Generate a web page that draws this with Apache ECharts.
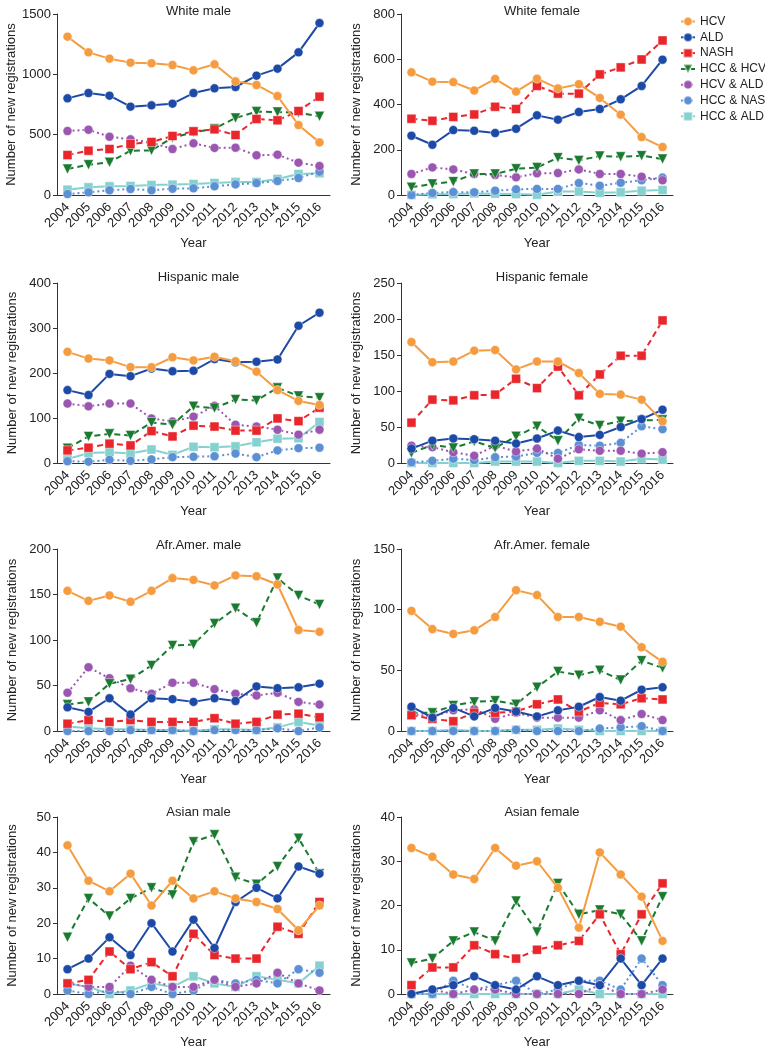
<!DOCTYPE html>
<html>
<head>
<meta charset="utf-8">
<script src="https://cdn.jsdelivr.net/npm/echarts@6/dist/echarts.min.js"></script>
<style>html,body{margin:0;padding:0;background:#fff}#c{width:765px;height:1050px}</style>
</head>
<body>
<div id="c"></div>
<script>
const years = ['2004','2005','2006','2007','2008','2009','2010','2011','2012','2013','2014','2015','2016'];
const seriesNames = ['HCV','ALD','NASH','HCC & HCV','HCV & ALD','HCC & NASH','HCC & ALD'];
const panelTitles = ['White male','White female','Hispanic male','Hispanic female','Afr.Amer. male','Afr.Amer. female','Asian male','Asian female'];
const yMaxes = [1500, 800, 400, 250, 200, 150, 50, 40];
const yIntervals = [500, 200, 100, 50, 50, 50, 10, 10];

// values per panel, one array per series (order as seriesNames)
const whiteMale = [
  [1312,1182,1130,1097,1092,1077,1033,1083,942,912,820,580,436],
  [801,845,823,732,743,757,845,884,895,989,1047,1182,1425],
  [331,367,381,423,439,489,528,544,497,630,619,696,815],
  [215,251,271,367,370,475,519,550,638,691,688,682,652],
  [530,541,483,461,434,381,428,390,392,329,334,268,240],
  [8,22,39,50,39,52,55,72,88,99,116,141,193],
  [44,64,72,75,83,86,91,99,108,108,133,174,180]
];
const whiteFemale = [
  [542,501,499,462,513,457,514,471,490,429,355,256,212],
  [262,222,287,284,274,293,352,333,367,380,423,482,598],
  [337,328,345,356,390,380,482,448,448,533,564,599,683],
  [34,49,59,93,93,116,121,165,153,172,169,174,159],
  [93,122,113,93,88,78,96,97,113,93,93,81,65],
  [0,9,13,12,19,25,27,27,53,41,54,65,77],
  [0,3,4,7,6,4,1,15,15,10,12,19,22]
];
const hispanicMale = [
  [247,232,228,213,213,235,228,236,226,203,162,138,129],
  [162,151,198,193,210,204,205,231,224,225,230,305,334],
  [28,34,43,39,71,59,83,81,72,72,99,93,123],
  [33,59,65,61,90,85,126,122,141,139,167,149,145],
  [132,126,132,132,99,92,103,127,85,81,74,63,74],
  [4,3,7,5,8,13,14,15,21,13,28,33,34],
  [9,22,24,21,30,18,36,35,37,46,54,55,91]
];
const hispanicFemale = [
  [168,140,141,156,157,130,141,141,125,96,95,88,58],
  [20,31,34,33,31,27,34,45,36,39,50,61,74],
  [56,88,87,94,95,117,104,134,94,123,149,149,198],
  [14,25,21,30,21,37,51,31,62,52,58,59,60],
  [24,22,15,10,24,16,20,6,19,17,17,13,15],
  [1,3,6,4,8,9,14,14,25,24,28,51,47],
  [0,0,0,0,2,2,2,0,3,3,2,6,5]
];
const afrMale = [
  [154,143,149,142,154,168,166,160,171,170,161,111,109],
  [26,21,36,18,36,35,32,36,33,49,47,48,52],
  [8,12,10,12,10,10,10,14,8,10,18,19,15],
  [29,32,52,57,72,94,95,118,135,119,168,149,139],
  [42,70,58,47,41,53,53,46,41,39,42,32,29],
  [0,0,0,1,1,1,0,1,1,1,3,0,4],
  [5,3,2,2,1,1,0,2,2,1,4,10,6]
];
const afrFemale = [
  [99,84,80,83,94,116,112,94,94,90,86,69,57],
  [20,11,19,12,19,16,12,17,20,28,25,34,36],
  [13,10,8,15,15,16,22,26,16,23,22,27,26],
  [15,15,21,24,25,22,36,49,46,50,42,58,52],
  [14,12,17,18,10,15,11,11,11,17,9,14,9],
  [0,0,0,0,0,1,0,0,0,2,3,4,0],
  [0,0,1,0,0,1,1,2,1,0,0,0,0]
];
const asianMale = [
  [42,32,29,34,25,32,27,29,27,26,24,18,25],
  [7,10,16,11,20,12,21,13,26,30,27,36,34],
  [3,4,12,7,9,5,17,11,10,10,19,17,26],
  [16,27,22,27,30,28,43,45,33,31,36,44,34],
  [3,2,2,8,4,2,2,4,2,3,6,3,1],
  [1,0,1,0,2,0,1,4,3,4,3,7,6],
  [3,2,0,1,3,2,5,3,2,5,4,3,8]
];
const asianFemale = [
  [33,31,27,26,33,29,30,24,15,32,27,22,12],
  [0,1,2,4,2,1,4,2,3,2,8,2,8],
  [2,6,6,11,9,8,10,11,12,18,9,18,25],
  [7,8,12,14,12,21,14,25,18,19,18,12,22],
  [0,1,0,1,1,0,0,0,0,2,0,0,1],
  [0,0,3,1,2,3,0,1,3,3,1,8,2],
  [0,0,0,0,0,0,0,0,1,0,0,0,0]
];
const panels = [whiteMale, whiteFemale, hispanicMale, hispanicFemale, afrMale, afrFemale, asianMale, asianFemale];

// styles
const styles = [
  {color:'#F59C40', symbol:'circle', type:'solid', rot:0, size:9},
  {color:'#1D4AA6', symbol:'circle', type:'solid', rot:0, size:9},
  {color:'#E8262B', symbol:'rect', type:[6,4], rot:0, size:9},
  {color:'#1A7A30', symbol:'triangle', type:[6,4], rot:180, size:10},
  {color:'#9A56B1', symbol:'circle', type:[2,3], rot:0, size:9},
  {color:'#5C8FD3', symbol:'circle', type:[2,3], rot:0, size:9},
  {color:'#84D1CF', symbol:'rect', type:'solid', rot:0, size:9}
];

const FONT = '"Liberation Sans", Arial, Helvetica, sans-serif';
const colLeft = [57, 401];
const colWidth = [273, 272];
const rowTop = [14, 283, 549, 817];
const rowHeight = [181, 180, 182, 181];
const titleTop = [0, 266, 534, 801];

const grids = [], xAxes = [], yAxes = [], series = [], titles = [];
panels.forEach((panel, p) => {
  const col = p % 2, row = Math.floor(p / 2);
  grids.push({left: colLeft[col], top: rowTop[row], width: colWidth[col], height: rowHeight[row], containLabel: false});
  titles.push({text: panelTitles[p], left: colLeft[col] + colWidth[col] / 2, top: titleTop[row], textAlign: 'center',
    textStyle: {fontFamily: FONT, fontSize: 13, fontWeight: 'normal', color: '#222'}});
  xAxes.push({type: 'category', gridIndex: p, data: years, boundaryGap: true,
    name: 'Year', nameLocation: 'middle', nameGap: 42,
    nameTextStyle: {fontFamily: FONT, fontSize: 13, color: '#222'},
    axisLine: {lineStyle: {color: '#333', width: 1}},
    axisTick: {show: false},
    axisLabel: {rotate: 45, fontFamily: FONT, fontSize: 13, color: '#222', margin: 10, interval: 0}});
  yAxes.push({type: 'value', gridIndex: p, min: 0, max: yMaxes[p], interval: yIntervals[p],
    name: 'Number of new registrations', nameLocation: 'middle', nameGap: 38,
    nameTextStyle: {fontFamily: FONT, fontSize: 13, color: '#222'},
    axisLine: {show: true, lineStyle: {color: '#333', width: 1}},
    axisTick: {show: true, length: 4, lineStyle: {color: '#333'}},
    splitLine: {show: false},
    axisLabel: {fontFamily: FONT, fontSize: 13, color: '#222', margin: 6, formatter: v => String(v)}});
  panel.forEach((vals, s) => {
    const st = styles[s];
    series.push({name: seriesNames[s], type: 'line', xAxisIndex: p, yAxisIndex: p, data: vals,
      symbol: st.symbol, symbolSize: st.size, symbolRotate: st.rot, showAllSymbol: true,
      lineStyle: {color: st.color, width: 2, type: st.type},
      itemStyle: {color: st.color, borderColor: 'rgba(255,255,255,0.45)', borderWidth: 1},
      emphasis: {disabled: true}, animation: false, z: 2 + (6 - s) * 0.01});
  });
});

const chart = echarts.init(document.getElementById('c'), null, {renderer: 'canvas'});
chart.setOption({
  animation: false,
  backgroundColor: '#fff',
  title: titles,
  legend: {orient: 'vertical', left: 680, top: 14.5, itemWidth: 14, itemHeight: 11, itemGap: 1.8, padding: 0,
    data: seriesNames.map(n => ({name: n})),
    textStyle: {fontFamily: FONT, fontSize: 12, color: '#222', lineHeight: 14}},
  grid: grids,
  xAxis: xAxes,
  yAxis: yAxes,
  series: series
});
</script>
</body>
</html>
